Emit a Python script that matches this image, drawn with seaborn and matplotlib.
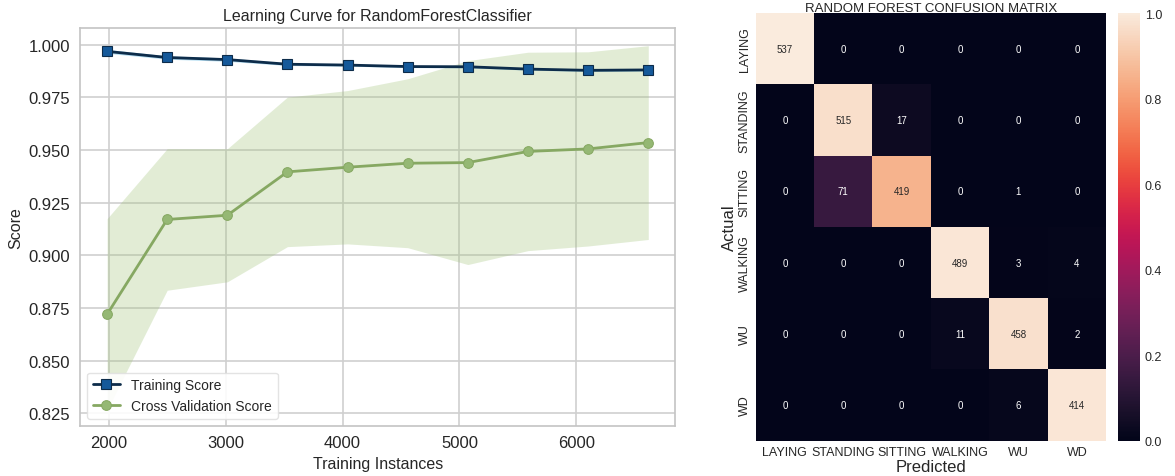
import numpy as np
import pandas as pd
import matplotlib
matplotlib.use("Agg")
import matplotlib.pyplot as plt
import seaborn as sns

# learning curve values
train_sizes = [1985, 2499, 3014, 3528, 4043, 4557, 5072, 5586, 6101, 6616]
train_scores = [0.9968, 0.9939, 0.9929, 0.9907, 0.9903, 0.9896, 0.9895, 0.9884, 0.9878, 0.9880]
train_std = [0.0009, 0.0008, 0.0008, 0.0006, 0.0005, 0.0005, 0.0005, 0.0005, 0.0005, 0.0005]
cv_scores = [0.8720, 0.9170, 0.9190, 0.9396, 0.9418, 0.9437, 0.9440, 0.9493, 0.9505, 0.9535]
cv_std = [0.0454, 0.0336, 0.0316, 0.0355, 0.0364, 0.0401, 0.0484, 0.0471, 0.0461, 0.0460]

# confusion matrix counts
classes = ["LAYING", "STANDING", "SITTING", "WALKING", "WU", "WD"]
cm_counts = [
    [537, 0, 0, 0, 0, 0],
    [0, 515, 17, 0, 0, 0],
    [0, 71, 419, 0, 1, 0],
    [0, 0, 0, 489, 3, 4],
    [0, 0, 0, 11, 458, 2],
    [0, 0, 0, 0, 6, 414],
]

sns.set_style("whitegrid", {"grid.color": "#cfcfcf", "axes.edgecolor": "#c4c4c4"})
plt.rcParams["font.family"] = ["Liberation Sans", "DejaVu Sans"]

fig = plt.figure(figsize=(11.75, 4.77), dpi=100)
ax1 = fig.add_axes([0.0681, 0.1055, 0.5066, 0.8337])
ax2 = fig.add_axes([0.6431, 0.074, 0.2982, 0.8966])
cax = fig.add_axes([0.9518, 0.074, 0.0185, 0.8966])

# ---- learning curve ----
tr = np.array(train_scores)
ts = np.array(train_std)
cv = np.array(cv_scores)
cs = np.array(cv_std)

ax1.fill_between(train_sizes, cv - cs, cv + cs, color="#9fc377", alpha=0.3, linewidth=0)
ax1.fill_between(train_sizes, tr - ts, tr + ts, color="#5ab4e0", alpha=0.45, linewidth=0)

sns.lineplot(x=train_sizes, y=train_scores, ax=ax1, color="#0d2c4a", linewidth=2,
             marker="s", markersize=7, markerfacecolor="#15599a",
             markeredgecolor="#0d2c4a", markeredgewidth=0.8, label="Training Score")
sns.lineplot(x=train_sizes, y=cv_scores, ax=ax1, color="#86a862", linewidth=2,
             marker="o", markersize=7, markerfacecolor="#95b874",
             markeredgecolor="#86a862", label="Cross Validation Score")

ax1.set_xlim(1753, 6847)
ax1.set_ylim(0.8191, 1.0079)
ax1.set_yticks(np.arange(0.825, 1.001, 0.025))
ax1.set_xticks([2000, 3000, 4000, 5000, 6000])
ax1.yaxis.set_major_formatter(matplotlib.ticker.FormatStrFormatter("%.3f"))
ax1.tick_params(labelsize=12)
ax1.grid(True, linewidth=1.2)
ax1.set_title("Learning Curve for RandomForestClassifier", fontsize=11.5, pad=6)
ax1.set_xlabel("Training Instances", fontsize=11.5)
ax1.set_ylabel("Score", fontsize=11.5)
for s in ax1.spines.values():
    s.set_color("#c4c4c4")
    s.set_linewidth(1.2)
leg = ax1.legend(loc="lower left", fontsize=10, frameon=True, framealpha=0.9)
leg.get_frame().set_edgecolor("#e0e0e0")

# ---- confusion matrix (row-normalised colours, count annotations) ----
cm = np.array(cm_counts)
cm_norm = cm / cm.sum(axis=1, keepdims=True)
cm_df = pd.DataFrame(cm_norm, index=classes, columns=classes)

sns.heatmap(cm_df, annot=cm, fmt="d", cmap="rocket", vmin=0, vmax=1,
            ax=ax2, cbar_ax=cax, annot_kws={"fontsize": 7})
ax2.set_title("RANDOM FOREST CONFUSION MATRIX", fontsize=9.5, pad=1.5)
ax2.set_xlabel("Predicted", fontsize=12, labelpad=1)
ax2.set_ylabel("Actual", fontsize=12, labelpad=1)
ax2.tick_params(axis="both", labelsize=9, length=0)
plt.setp(ax2.get_yticklabels(), rotation=90, va="center")
plt.setp(ax2.get_xticklabels(), rotation=0)

cax.tick_params(labelsize=9, length=0)
cax.set_yticks([0.0, 0.2, 0.4, 0.6, 0.8, 1.0])
cax.set_yticklabels(["0.0", "0.2", "0.4", "0.6", "0.8", "1.0"])
for s in cax.spines.values():
    s.set_visible(False)

fig.savefig("out.png", dpi=100)
